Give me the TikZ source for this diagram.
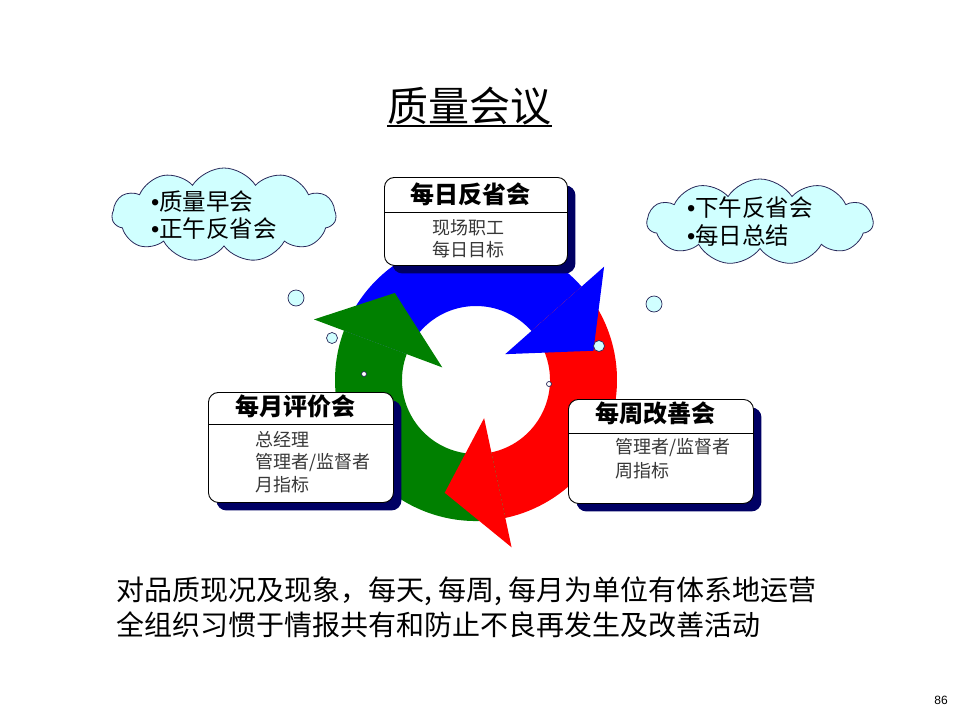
\documentclass[tikz,border=0pt]{standalone}
\usepackage{fontspec}
\setmainfont{Noto Sans CJK SC}
\newfontfamily\arialfont{Liberation Sans}
\newcommand{\mybullet}{{\arialfont •}}
\usetikzlibrary{shapes.symbols,shadows}
\definecolor{navyshadow}{RGB}{0,0,100}
\definecolor{cloudfill}{RGB}{208,255,255}
\definecolor{ringblue}{RGB}{0,0,255}
\definecolor{ringred}{RGB}{255,0,0}
\definecolor{ringgreen}{RGB}{0,128,0}
\definecolor{bodygray}{RGB}{55,55,55}
\definecolor{cloudline}{RGB}{40,40,90}
\begin{document}
\begin{tikzpicture}[x=1pt,y=1pt,
  boxframe/.style={draw=black, line width=0.9pt, fill=white, rounded corners=10pt, inner sep=0pt,
    anchor=north west, general shadow={fill=navyshadow, shadow xshift=8pt, shadow yshift=-8pt}},
  headtext/.style={anchor=center, inner sep=0pt, font=\fontsize{24}{24}\selectfont\bfseries},
  bodytext/.style={anchor=west, inner sep=0pt, text=bodygray, font=\fontsize{18}{20}\selectfont},
  cloudshape/.style={cloud, cloud puffs=11, cloud puff arc=115, aspect=2.5, draw=cloudline,
    line width=0.8pt, fill=cloudfill, inner sep=0pt},
  cloudtext/.style={anchor=west, inner sep=0pt, font=\fontsize{23.5}{24}\selectfont},
  bubble/.style={circle, draw=cloudline, line width=0.7pt, fill=cloudfill, inner sep=0pt},
  bigtext/.style={anchor=west, inner sep=0pt, font=\fontsize{28}{30}\selectfont},
]
\useasboundingbox (0,0) rectangle (960,-720);

% title
\node[inner sep=0pt, font=\fontsize{41}{41}\selectfont] (title) at (469.5,-106) {质量会议};
\draw[line width=1.5pt] ([yshift=-1]title.south west) -- ([yshift=-1]title.south east);

% ring of three arrows
\begin{scope}[shift={(476,-380)}]
  \fill[ringblue] (159.5:141) arc[start angle=159.5, end angle=41.5, radius=141]
     -- (41.5:74) arc[start angle=41.5, end angle=159.5, radius=74] -- cycle;
  \fill[ringred] (41.5:141) arc[start angle=41.5, end angle=-78, radius=141]
     -- (-78:74) arc[start angle=-78, end angle=41.5, radius=74] -- cycle;
  \fill[ringgreen] (-78:141) arc[start angle=-78, end angle=-200.5, radius=141]
     -- (-200.5:74) arc[start angle=-200.5, end angle=-78, radius=74] -- cycle;
  \fill[ringblue] (41.5:171) -- (14:121) -- (41.5:39) -- cycle;
  \fill[ringred] (-78:171) -- (-105.5:117) -- (-78:39) -- cycle;
  \fill[ringgreen] (159.5:173) -- (133:119) -- (159.5:36) -- cycle;
\end{scope}

% boxes
\node[boxframe, minimum width=183, minimum height=88] (daily) at (384,-177) {};
\draw[line width=0.9pt] ([yshift=-35.5]daily.north west) -- ([yshift=-35.5]daily.north east);
\node[headtext] (dailyh) at (470,-194) {每日反省会};
\node[bodytext] (daily1) at (432,-228) {现场职工};
\node[bodytext] (daily2) at (432,-250) {每日目标};

\node[boxframe, minimum width=185, minimum height=110] (monthly) at (208,-392) {};
\draw[line width=0.9pt] ([yshift=-32]monthly.north west) -- ([yshift=-32]monthly.north east);
\node[headtext] (monthlyh) at (295,-406) {每月评价会};
\node[bodytext] (monthly1) at (255,-440) {总经理};
\node[bodytext] (monthly2) at (255,-463) {管理者/监督者};
\node[bodytext] (monthly3) at (255,-485) {月指标};

\node[boxframe, minimum width=185, minimum height=104] (weekly) at (568,-399) {};
\draw[line width=0.9pt] ([yshift=-34]weekly.north west) -- ([yshift=-34]weekly.north east);
\node[headtext] (weeklyh) at (655,-413) {每周改善会};
\node[bodytext] (weekly1) at (615,-448) {管理者/监督者};
\node[bodytext] (weekly2) at (615,-471) {周指标};

% clouds
\node[cloudshape, minimum width=224, minimum height=94] (cloudL) at (224,-215) {};
\node[cloudtext] (cloudL1) at (151,-202) {\mybullet 质量早会};
\node[cloudtext] (cloudL2) at (151,-229) {\mybullet 正午反省会};
\node[cloudshape, minimum width=226, minimum height=86] (cloudR) at (760,-222) {};
\node[cloudtext] (cloudR1) at (687,-208) {\mybullet 下午反省会};
\node[cloudtext] (cloudR2) at (687,-236) {\mybullet 每日总结};

% bubbles
\node[bubble, minimum size=16] (bL1) at (296,-298) {};
\node[bubble, minimum size=11] (bL2) at (332,-338) {};
\node[bubble, minimum size=5, fill=white] (bL3) at (364,-374) {};
\node[bubble, minimum size=16] (bR1) at (654,-304) {};
\node[bubble, minimum size=11] (bR2) at (599,-346) {};
\node[bubble, minimum size=5, fill=white] (bR3) at (549,-384) {};

% bottom text
\node[bigtext] (line1) at (116,-591) {对品质现况及现象，每天, 每周, 每月为单位有体系地运营};
\node[bigtext] (line2) at (116,-625) {全组织习惯于情报共有和防止不良再发生及改善活动};

\node[inner sep=0pt, font=\arialfont\fontsize{12}{12}\selectfont] (pagenum) at (941,-700) {86};
\end{tikzpicture}
\end{document}
